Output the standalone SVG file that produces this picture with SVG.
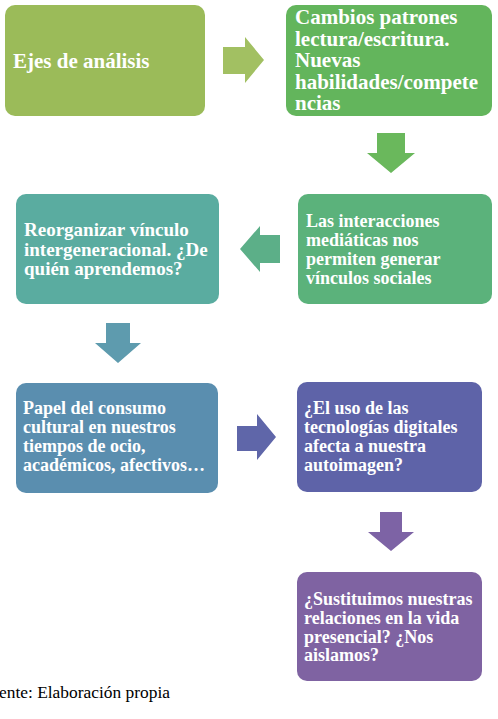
<svg xmlns="http://www.w3.org/2000/svg" width="498" height="719" viewBox="0 0 498 719">
<style>
.box{stroke:none}
.t{font-family:'Liberation Serif', 'Times New Roman', Times, serif;font-weight:700;fill:#ffffff}
.t21{font-size:21px}
.t19{font-size:19px}
.t18{font-size:18px}
.cap{font-family:'Liberation Serif', 'Times New Roman', Times, serif;font-size:17.4px;fill:#000000}
</style>
<rect width="498" height="719" fill="#ffffff"/>
<g id="connectors">
<polygon id="a1" points="223,47 245,47 245,37 264,60 245,83 245,74 223,74" fill="#a2c062"/>
<polygon id="a2" points="377,133 405,133 405,153 415,153 391,173 367,153 377,153" fill="#6ab85c"/>
<polygon id="a3" points="280,235 260,235 260,226 240,249 260,272 260,263 280,263" fill="#5caf88"/>
<polygon id="a4" points="106,323 130,323 130,343 141,343 118,363 95,343 106,343" fill="#5e9bae"/>
<polygon id="a5" points="237,426 257,426 257,414 276,437 257,460 257,451 237,451" fill="#5f66a9"/>
<polygon id="a6" points="380,512 402,512 402,532 414,532 391,551 368,532 380,532" fill="#7d63a5"/>
</g>
<g id="n1">
<rect class="box" x="5" y="5" width="200" height="111" rx="10" fill="#9bbb59"/>
<text class="t t21" x="13" y="68">Ejes de análisis</text>
</g>
<g id="n2">
<rect class="box" x="286" y="5" width="206" height="111" rx="10" fill="#63b55c"/>
<text class="t t21"><tspan x="295" y="24">Cambios patrones</tspan><tspan x="295" y="45.5">lectura/escritura.</tspan><tspan x="295" y="67">Nuevas</tspan><tspan x="295" y="88.5">habilidades/compete</tspan><tspan x="295" y="110">ncias</tspan></text>
</g>
<g id="n3">
<rect class="box" x="16" y="194" width="203" height="110" rx="10" fill="#5aaca0"/>
<text class="t t19"><tspan x="24" y="236">Reorganizar vínculo</tspan><tspan x="24" y="255.5">intergeneracional. ¿De</tspan><tspan x="24" y="275">quién aprendemos?</tspan></text>
</g>
<g id="n4">
<rect class="box" x="298" y="194" width="194" height="110" rx="10" fill="#5bb27b"/>
<text class="t t18"><tspan x="306" y="227">Las interacciones</tspan><tspan x="306" y="246">mediáticas nos</tspan><tspan x="306" y="265">permiten generar</tspan><tspan x="306" y="284">vínculos sociales</tspan></text>
</g>
<g id="n5">
<rect class="box" x="16" y="383" width="202" height="110" rx="10" fill="#5a8eaf"/>
<text class="t t18"><tspan x="23" y="414">Papel del consumo</tspan><tspan x="23" y="433">cultural en nuestros</tspan><tspan x="23" y="452">tiempos de ocio,</tspan><tspan x="23" y="471">académicos, afectivos…</tspan></text>
</g>
<g id="n6">
<rect class="box" x="297" y="382" width="185" height="110" rx="10" fill="#5e63a8"/>
<text class="t t18"><tspan x="304" y="414">¿El uso de las</tspan><tspan x="304" y="433">tecnologías digitales</tspan><tspan x="304" y="452">afecta a nuestra</tspan><tspan x="304" y="471">autoimagen?</tspan></text>
</g>
<g id="n7">
<rect class="box" x="297" y="572" width="185" height="109" rx="10" fill="#7f63a2"/>
<text class="t t18"><tspan x="304" y="605">¿Sustituimos nuestras</tspan><tspan x="304" y="624">relaciones en la vida</tspan><tspan x="304" y="643">presencial? ¿Nos</tspan><tspan x="304" y="661">aislamos?</tspan></text>
</g>
<text class="cap" x="-1" y="698">ente: Elaboración propia</text>
</svg>
